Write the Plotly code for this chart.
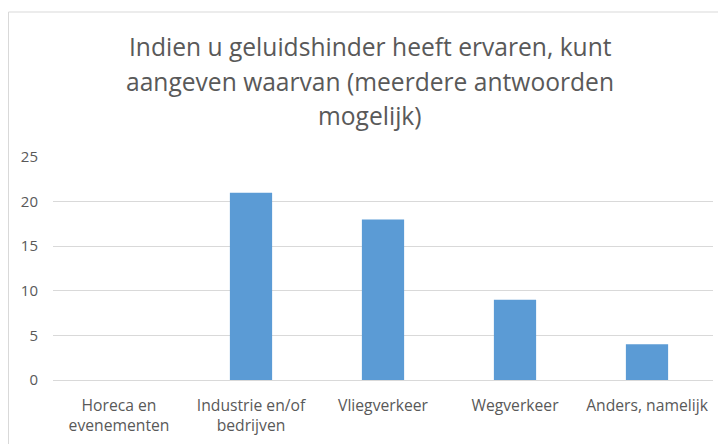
import plotly.graph_objects as go

categories = ["Horeca en<br>evenementen", "Industrie en/of<br>bedrijven", "Vliegverkeer", "Wegverkeer", "Anders, namelijk"]
values = [0, 21, 18, 9, 4]
title_lines = ["Indien u geluidshinder heeft ervaren, kunt",
               "aangeven waarvan (meerdere antwoorden",
               "mogelijk)"]

OFF = 8  # page body margin
W, H = 726 - OFF, 444 - OFF
L, R = 53 - OFF, 713 - OFF
T, B = 157 - OFF, 380 - OFF
FONT = "Open Sans"
GREY = "#595959"


def px(x):
    return (x - OFF - L) / (R - L)


def py(y):
    return (B - (y - OFF)) / (B - T)


fig = go.Figure(go.Bar(x=categories, y=values, marker=dict(color="#5B9BD5", line=dict(width=0)),
                       width=0.32))

annotations = []
for i, line in enumerate(title_lines):
    annotations.append(dict(text=line, xref="paper", yref="paper", x=px(370),
                            xanchor="center", yanchor="middle", y=py(47 + 34.5 * i),
                            showarrow=False, font=dict(family=FONT, size=24.6, color=GREY)))

fig.update_layout(
    width=W, height=H,
    margin=dict(l=L, r=W - R, t=T, b=H - B, autoexpand=False),
    paper_bgcolor="white", plot_bgcolor="white",
    showlegend=False,
    annotations=annotations,
    xaxis=dict(showgrid=False, showline=False, ticks="", automargin=False, ticklabelstandoff=14,
               tickfont=dict(family=FONT, size=15.7, color=GREY)),
    yaxis=dict(range=[0, 25], dtick=5, showgrid=True, gridcolor="#D9D9D9", gridwidth=1,
               zeroline=True, zerolinecolor="#D9D9D9", zerolinewidth=1, automargin=False,
               ticks="", ticklabelstandoff=14, tickfont=dict(family=FONT, size=15, color=GREY)),
    shapes=[dict(type="rect", xref="paper", yref="paper",
                 x0=px(8.5), x1=px(760), y0=py(480), y1=py(12),
                 line=dict(color="#D9D9D9", width=1), layer="below")],
)

fig.write_html("out.html")
